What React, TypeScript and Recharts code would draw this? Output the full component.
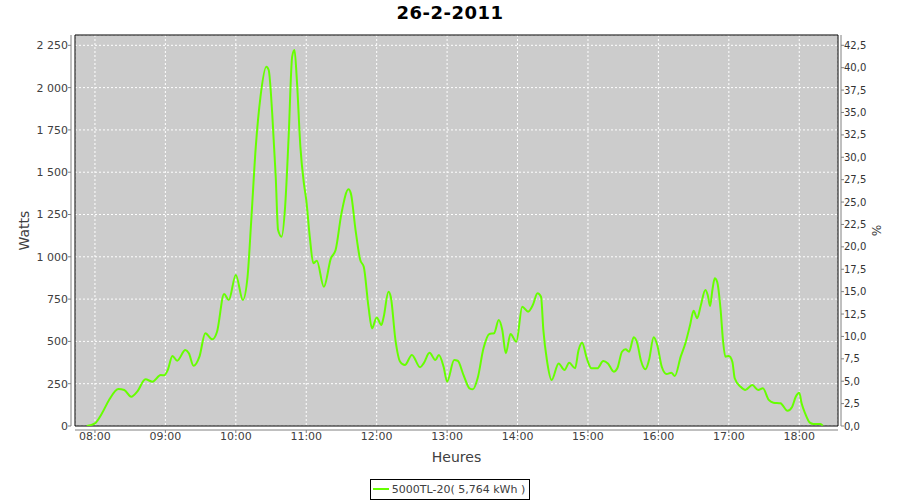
import {
  LineChart,
  Line,
  XAxis,
  YAxis,
  CartesianGrid,
  ReferenceArea,
  Legend,
} from "recharts";

const title = "26-2-2011";
const seriesName = "5000TL-20( 5,764 kWh )";

// readings (time of day, watts)
const times = [
  "07:53", "08:00", "08:06", "08:12", "08:20", "08:25", "08:31", "08:36", "08:43", "08:49",
  "08:56", "08:59", "09:02", "09:06", "09:10", "09:17", "09:20", "09:24", "09:29", "09:34",
  "09:40", "09:44", "09:50", "09:54", "10:00", "10:06", "10:10", "10:13", "10:17", "10:21",
  "10:26", "10:28", "10:31", "10:34", "10:36", "10:39", "10:42", "10:45", "10:48", "10:50",
  "10:52", "10:55", "10:58", "11:00", "11:03", "11:06", "11:09", "11:15", "11:21", "11:25",
  "11:30", "11:36", "11:38", "11:42", "11:46", "11:49", "11:53", "11:56", "12:00", "12:04",
  "12:06", "12:10", "12:12", "12:16", "12:20", "12:24", "12:30", "12:37", "12:40", "12:45",
  "12:50", "12:53", "12:57", "13:00", "13:06", "13:09", "13:14", "13:19", "13:22", "13:26",
  "13:31", "13:36", "13:40", "13:44", "13:47", "13:50", "13:54", "13:59", "14:04", "14:09",
  "14:13", "14:17", "14:20", "14:22", "14:25", "14:29", "14:35", "14:40", "14:44", "14:49",
  "14:52", "14:55", "14:59", "15:03", "15:08", "15:13", "15:17", "15:22", "15:25", "15:29",
  "15:32", "15:35", "15:39", "15:42", "15:45", "15:49", "15:52", "15:56", "15:59", "16:03",
  "16:07", "16:11", "16:14", "16:19", "16:23", "16:27", "16:30", "16:33", "16:36", "16:40",
  "16:42", "16:44", "16:46", "16:48", "16:50", "16:53", "16:55", "16:57", "17:00", "17:03",
  "17:05", "17:10", "17:14", "17:20", "17:25", "17:29", "17:34", "17:38", "17:44", "17:50",
  "17:54", "17:57", "18:00", "18:02", "18:05", "18:09", "18:12", "18:18", "18:20",
];

const watts = [
  0, 16, 75, 154, 219, 213, 173, 203, 276, 262,
  301, 300, 331, 414, 386, 449, 430, 356, 410, 548,
  512, 557, 780, 745, 892, 745, 882, 1198, 1650, 1946,
  2124, 2104, 1848, 1473, 1158, 1119, 1296, 1710, 2183, 2222,
  2045, 1650, 1434, 1336, 1119, 962, 977, 823, 991, 1040,
  1257, 1399, 1375, 1158, 981, 941, 705, 577, 642, 597,
  646, 794, 764, 508, 380, 360, 420, 347, 370, 433,
  390, 420, 350, 262, 390, 386, 301, 223, 217, 282,
  459, 544, 548, 626, 567, 430, 544, 498, 705, 676,
  715, 784, 764, 567, 390, 272, 370, 331, 374, 341,
  449, 492, 400, 341, 341, 384, 370, 321, 341, 439,
  453, 439, 524, 489, 390, 335, 390, 524, 479, 347,
  307, 315, 296, 410, 489, 597, 681, 637, 709, 804,
  774, 709, 804, 873, 853, 686, 508, 410, 414, 380,
  282, 232, 213, 242, 213, 223, 154, 138, 134, 90,
  114, 173, 197, 134, 75, 20, 12, 12, 2,
];

const hourTicks = [
  "08:00", "09:00", "10:00", "11:00", "12:00", "13:00",
  "14:00", "15:00", "16:00", "17:00", "18:00",
];
const wattTicks = [0, 250, 500, 750, 1000, 1250, 1500, 1750, 2000, 2250];
const percentTicks = [
  0, 2.5, 5, 7.5, 10, 12.5, 15, 17.5, 20, 22.5, 25, 27.5, 30, 32.5, 35, 37.5, 40, 42.5,
];

const toMinutes = (s: string) => {
  const [h, m] = s.split(":").map(Number);
  return h * 60 + m;
};
const fmtTime = (v: number) =>
  `${String(Math.floor(v / 60)).padStart(2, "0")}:${String(v % 60).padStart(2, "0")}`;
const fmtWatts = (v: number) =>
  v >= 1000 ? `${Math.floor(v / 1000)} ${String(v % 1000).padStart(3, "0")}` : `${v}`;
const fmtPercent = (v: number) => v.toFixed(1).replace(".", ",");

const data = times.map((t, i) => ({ t: toMinutes(t), w: watts[i] }));

const X_MIN = 463;
const X_MAX = 1113;
const W_MAX = 2311;
const P_MAX = 43.65;

const GREEN = "#66ff00";
const FONT = "'DejaVu Sans', sans-serif";
const TICK = { fill: "#404040", fontSize: 11, fontFamily: FONT };

const css = `
.axis-left { transform: translateX(-4px); }
.axis-right { transform: translateX(3px); }
.axis-bottom { transform: translateY(4px); }
`;

function LegendBox({ payload }: any) {
  const item = payload && payload[0];
  return (
    <div style={{ height: 24, textAlign: "center" }}>
      <div
        style={{
          display: "inline-flex",
          alignItems: "center",
          marginTop: 1,
          height: 19,
          padding: "0 4px 0 2px",
          border: "1px solid #000",
          fontFamily: FONT,
          fontSize: 11,
          color: "#404040",
        }}
      >
        <span
          style={{
            display: "inline-block",
            width: 16,
            height: 2,
            background: item ? item.color : GREEN,
            marginRight: 3,
          }}
        />
        {item ? item.value : seriesName}
      </div>
    </div>
  );
}

export default function App() {
  return (
    <div
      style={{
        position: "absolute",
        left: 0,
        top: 0,
        width: 900,
        height: 500,
        background: "#fff",
      }}
    >
      <style>{css}</style>
      <div
        style={{
          position: "absolute",
          top: 0,
          left: 0,
          width: 900,
          textAlign: "center",
          fontFamily: FONT,
          fontWeight: "bold",
          fontSize: 18,
          letterSpacing: 0.5,
          lineHeight: "26px",
          color: "#000",
        }}
      >
        {title}
      </div>
      <LineChart
        width={900}
        height={500}
        data={data}
        margin={{ top: 35, right: 0, bottom: 0, left: 0 }}
      >
        <CartesianGrid
          yAxisId="left"
          stroke="#ffffff"
          strokeDasharray="2 2"
          fill="#cccccc"
          fillOpacity={1}
        />
        <XAxis
          dataKey="t"
          type="number"
          domain={[X_MIN, X_MAX]}
          allowDataOverflow
          ticks={hourTicks.map(toMinutes)}
          tickFormatter={fmtTime}
          height={50}
          className="axis-bottom"
          stroke="#808080"
          tickSize={3}
          tickMargin={3}
          tick={TICK}
          label={{
            value: "Heures",
            position: "insideBottom",
            offset: 14,
            style: { fill: "#404040", fontSize: 14, fontFamily: FONT },
          }}
        />
        <YAxis
          yAxisId="left"
          type="number"
          domain={[0, W_MAX]}
          allowDataOverflow
          ticks={wattTicks}
          tickFormatter={fmtWatts}
          width={75}
          className="axis-left"
          stroke="#808080"
          tickSize={3}
          tickMargin={4}
          tick={TICK}
          label={{
            value: "Watts",
            angle: -90,
            position: "insideLeft",
            offset: 24,
            style: { fill: "#404040", fontSize: 14, fontFamily: FONT, textAnchor: "middle" },
          }}
        />
        <YAxis
          yAxisId="right"
          orientation="right"
          type="number"
          domain={[0, P_MAX]}
          allowDataOverflow
          ticks={percentTicks}
          tickFormatter={fmtPercent}
          width={62}
          className="axis-right"
          stroke="#808080"
          tickSize={3}
          tickMargin={3}
          tick={{ ...TICK, fontSize: 10, fill: "#333333" }}
          label={{
            value: "%",
            angle: 90,
            position: "insideRight",
            offset: 24,
            style: { fill: "#404040", fontSize: 12, fontFamily: FONT, textAnchor: "middle" },
          }}
        />
        <ReferenceArea
          yAxisId="left"
          x1={X_MIN}
          x2={X_MAX}
          y1={0}
          y2={W_MAX}
          fill="none"
          stroke="#000000"
          strokeWidth={1}
        />
        <Line
          yAxisId="left"
          dataKey="w"
          name={seriesName}
          type="monotone"
          stroke={GREEN}
          strokeWidth={2}
          dot={false}
          isAnimationActive={false}
        />
        <Legend verticalAlign="bottom" content={<LegendBox />} />
      </LineChart>
    </div>
  );
}
